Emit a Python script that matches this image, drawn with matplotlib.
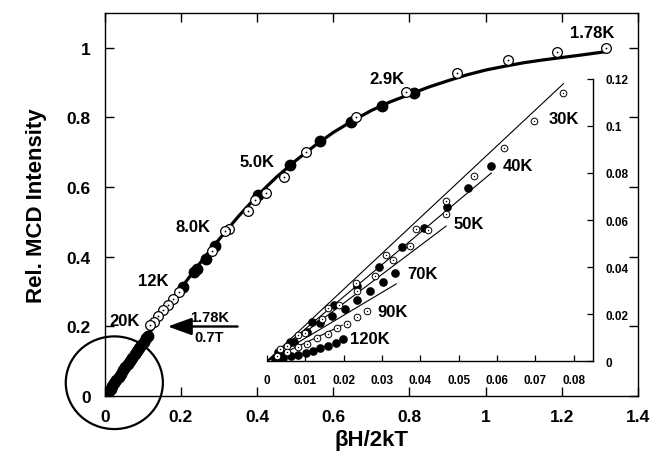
import matplotlib
matplotlib.use("Agg")
import matplotlib.pyplot as plt
from matplotlib.patches import Ellipse

plt.rcParams['font.family'] = ['Liberation Sans', 'DejaVu Sans']
plt.rcParams['font.weight'] = 'bold'

# ---------------- main panel data ----------------
fit_x = [0.0, 0.05, 0.1, 0.15, 0.2, 0.25, 0.3, 0.35, 0.4, 0.45, 0.5, 0.55, 0.6, 0.65,
         0.7, 0.75, 0.8, 0.85, 0.9, 0.95, 1.0, 1.05, 1.1, 1.15, 1.2, 1.25, 1.31]
fit_y = [0.0, 0.078, 0.155, 0.233, 0.31, 0.382, 0.45, 0.515, 0.575, 0.628, 0.675, 0.718,
         0.757, 0.79, 0.82, 0.845, 0.866, 0.887, 0.905, 0.922, 0.936, 0.947, 0.957, 0.965,
         0.972, 0.979, 0.988]

open_x = [1.316, 1.187, 1.058, 0.926, 0.792, 0.66, 0.529, 0.471, 0.424, 0.395, 0.377,
          0.327, 0.316, 0.281, 0.195, 0.18, 0.166, 0.153, 0.14, 0.128, 0.118]
open_y = [1.0, 0.989, 0.966, 0.929, 0.874, 0.80, 0.70, 0.628, 0.583, 0.563, 0.531,
          0.48, 0.474, 0.417, 0.30, 0.28, 0.263, 0.246, 0.23, 0.214, 0.203]

filled_x = [0.813, 0.729, 0.647, 0.566, 0.487, 0.403, 0.29, 0.266, 0.241, 0.235, 0.206,
            0.114, 0.108, 0.102, 0.096, 0.09, 0.084, 0.078, 0.072, 0.066, 0.06, 0.054,
            0.048, 0.042, 0.036, 0.03, 0.025, 0.02, 0.015, 0.01, 0.006, 0.003]
filled_y = [0.871, 0.834, 0.787, 0.731, 0.663, 0.577, 0.431, 0.394, 0.366, 0.356, 0.314,
            0.174, 0.166, 0.155, 0.148, 0.138, 0.13, 0.12, 0.11, 0.101, 0.092, 0.083,
            0.074, 0.064, 0.055, 0.046, 0.038, 0.03, 0.022, 0.015, 0.009, 0.004]

temp_labels = ["1.78K", "2.9K", "5.0K", "8.0K", "12K", "20K"]
temp_label_x = [1.28, 0.742, 0.40, 0.232, 0.127, 0.053]
temp_label_y = [1.043, 0.911, 0.674, 0.486, 0.331, 0.217]

main_xticks = [0, 0.2, 0.4, 0.6, 0.8, 1.0, 1.2, 1.4]
main_xticklabels = ["0", "0.2", "0.4", "0.6", "0.8", "1", "1.2", "1.4"]
main_yticks = [0, 0.2, 0.4, 0.6, 0.8, 1.0]
main_yticklabels = ["0", "0.2", "0.4", "0.6", "0.8", "1"]

# ---------------- inset data ----------------
k30_x = [0.0773, 0.0697, 0.0619, 0.054, 0.0467, 0.0389, 0.0311, 0.0232, 0.0159, 0.0081, 0.0035]
k30_y = [0.114, 0.102, 0.0906, 0.0787, 0.068, 0.0562, 0.045, 0.0332, 0.0225, 0.011, 0.005]
k40_x = [0.0585, 0.0525, 0.047, 0.041, 0.0352, 0.0292, 0.0235, 0.0175, 0.0117, 0.006, 0.003]
k40_y = [0.083, 0.0736, 0.0655, 0.0566, 0.0485, 0.040, 0.032, 0.0238, 0.0166, 0.0081, 0.004]
k50_x = [0.0467, 0.042, 0.0373, 0.0329, 0.0282, 0.0235, 0.0188, 0.0144, 0.0098, 0.0052]
k50_y = [0.0626, 0.0557, 0.049, 0.043, 0.0362, 0.0298, 0.0238, 0.0179, 0.012, 0.0064]
k70_x = [0.0334, 0.0303, 0.0269, 0.0235, 0.0204, 0.017, 0.0138, 0.0104, 0.007, 0.0035]
k70_y = [0.0374, 0.0336, 0.0298, 0.026, 0.0221, 0.0191, 0.0162, 0.0123, 0.008, 0.004]
k90_x = [0.0261, 0.0235, 0.0209, 0.0183, 0.0159, 0.0131, 0.0104, 0.0081, 0.0052, 0.0026]
k90_y = [0.0213, 0.0187, 0.0157, 0.014, 0.0115, 0.0098, 0.0072, 0.006, 0.0038, 0.002]
k120_x = [0.0198, 0.018, 0.0159, 0.0138, 0.012, 0.0102, 0.0081, 0.0063, 0.0042, 0.002]
k120_y = [0.0094, 0.0077, 0.0064, 0.0055, 0.0043, 0.0034, 0.0026, 0.002, 0.0013, 0.0004]

fit_lines_x = [[0.0, 0.0773], [0.0, 0.0585], [0.0, 0.0467], [0.0, 0.0337], [0.0, 0.0196]]
fit_lines_y = [[0.0, 0.118], [0.0, 0.080], [0.0, 0.0574], [0.0, 0.0328], [0.0, 0.0152]]

inset_labels = ["30K", "40K", "50K", "70K", "90K", "120K"]
inset_label_x = [0.0734, 0.0614, 0.0486, 0.0365, 0.0287, 0.0217]
inset_label_y = [0.1034, 0.0834, 0.0587, 0.0374, 0.0209, 0.0094]

inset_xticks = [0, 0.01, 0.02, 0.03, 0.04, 0.05, 0.06, 0.07, 0.08]
inset_xticklabels = ["0", "0.01", "0.02", "0.03", "0.04", "0.05", "0.06", "0.07", "0.08"]
inset_yticks = [0, 0.02, 0.04, 0.06, 0.08, 0.10, 0.12]
inset_yticklabels = ["0", "0.02", "0.04", "0.06", "0.08", "0.1", "0.12"]

# ---------------- figure ----------------
fig = plt.figure(figsize=(6.55, 4.64), dpi=100)
ax = fig.add_axes([0.160, 0.144, 0.814, 0.826])

ax.plot(fit_x, fit_y, color='black', lw=2.3, zorder=2, solid_joinstyle='round')
ax.plot(filled_x, filled_y, 'o', ms=7.5, mfc='black', mec='black', zorder=3)
ax.plot(open_x, open_y, 'o', ms=7, mfc='white', mec='black', mew=0.9, zorder=4)
ax.plot(open_x, open_y, 'o', ms=1.3, mfc='black', mec='black', mew=0, zorder=5)

for t, x, y in zip(temp_labels, temp_label_x, temp_label_y):
    ax.text(x, y, t, fontsize=12, fontweight='bold', ha='center', va='center')

ax.set_xlim(0, 1.4)
ax.set_ylim(0, 1.1)
ax.set_xticks(main_xticks)
ax.set_xticklabels(main_xticklabels)
ax.set_yticks(main_yticks)
ax.set_yticklabels(main_yticklabels)
ax.tick_params(direction='in', length=6.5, width=1, top=True, right=True,
               labelsize=12.5, pad=9)
ax.tick_params(axis='y', pad=10)
for lab in ax.get_xticklabels() + ax.get_yticklabels():
    lab.set_fontweight('bold')
for s in ax.spines.values():
    s.set_linewidth(1.0)
ax.set_xlabel("βH/2kT", fontsize=16, fontweight='bold', labelpad=4)
ax.set_ylabel("Rel. MCD Intensity", fontsize=16, fontweight='bold', labelpad=14)

# circle around origin
ax.add_patch(Ellipse((0.025, 0.0386), 0.255, 0.266, fill=False, lw=1.6,
                     edgecolor='black', clip_on=False, zorder=6))

# arrow with 1.78K / 0.7T
ax.annotate('', xy=(0.158, 0.2), xytext=(0.356, 0.2),
            arrowprops=dict(arrowstyle='-|>,head_length=1.05,head_width=0.38',
                            mutation_scale=14, lw=1.7, color='black'))
ax.text(0.274, 0.226, "1.78K", fontsize=10.5, fontweight='bold', ha='center', va='center')
ax.text(0.274, 0.170, "0.7T", fontsize=10.5, fontweight='bold', ha='center', va='center')

# ---------------- inset ----------------
axi = fig.add_axes([0.4076, 0.2198, 0.4977, 0.6078])
axi.patch.set_visible(False)
for xs, ys in zip(fit_lines_x, fit_lines_y):
    axi.plot(xs, ys, color='black', lw=0.8)

def open_pts(xs, ys):
    axi.plot(xs, ys, 'o', ms=4.8, mfc='white', mec='black', mew=0.7, zorder=4)
    axi.plot(xs, ys, 'o', ms=1.0, mfc='black', mec='black', mew=0, zorder=5)

def filled_pts(xs, ys):
    axi.plot(xs, ys, 'o', ms=5.2, mfc='black', mec='black', zorder=3)

open_pts(k30_x, k30_y)
filled_pts(k40_x, k40_y)
open_pts(k50_x, k50_y)
filled_pts(k70_x, k70_y)
open_pts(k90_x, k90_y)
filled_pts(k120_x, k120_y)

for t, x, y in zip(inset_labels, inset_label_x, inset_label_y):
    axi.text(x, y, t, fontsize=12, fontweight='bold', ha='left', va='center')

axi.set_xlim(0, 0.085)
axi.set_ylim(0, 0.12)
axi.spines['top'].set_visible(False)
axi.spines['left'].set_visible(False)
axi.spines['right'].set_linewidth(1.0)
axi.spines['bottom'].set_linewidth(1.0)
axi.yaxis.tick_right()
axi.set_xticks(inset_xticks)
axi.set_xticklabels(inset_xticklabels)
axi.set_yticks(inset_yticks)
axi.set_yticklabels(inset_yticklabels)
axi.tick_params(direction='in', length=4, width=0.9, labelsize=8.5, pad=9)
for lab in axi.get_xticklabels() + axi.get_yticklabels():
    lab.set_fontweight('bold')

fig.savefig("out.png", dpi=100)
